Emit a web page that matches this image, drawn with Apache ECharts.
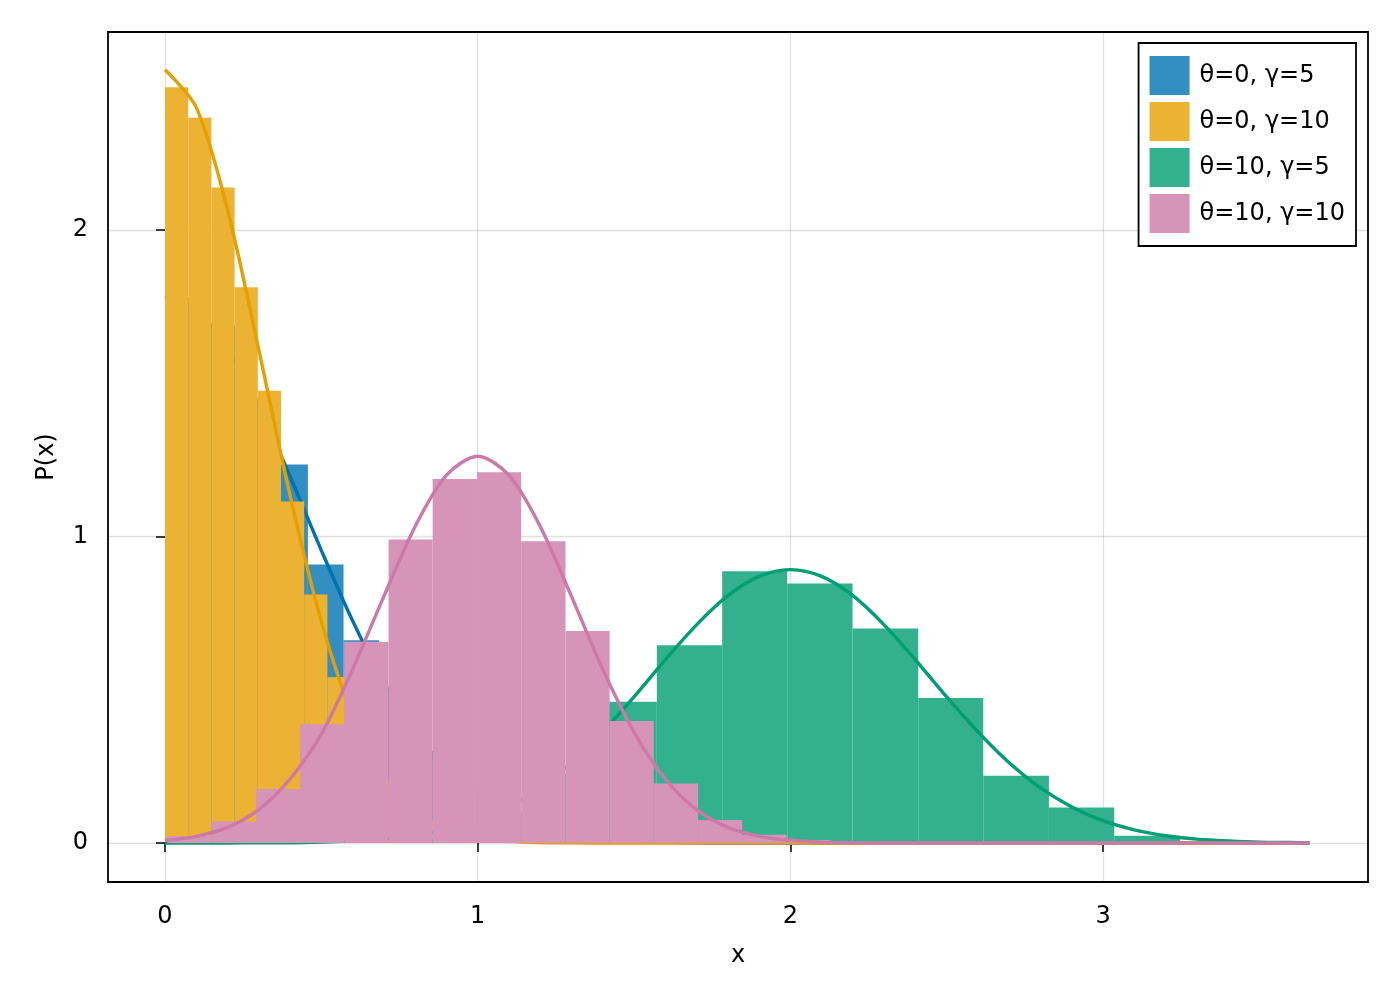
<!DOCTYPE html>
<html>
<head>
<meta charset="utf-8">
<script src="https://cdn.jsdelivr.net/npm/echarts@6/dist/echarts.min.js"></script>
<style>
  html, body { margin: 0; padding: 0; background: #fff; }
  #chart { width: 1400px; height: 1000px; }
</style>
</head>
<body>
<div id="chart"></div>
<script>
// legend names
const names = ['θ=0, γ=5', 'θ=0, γ=10', 'θ=10, γ=5', 'θ=10, γ=10'];

// histogram bin edges and heights
const blueEdges = [0, 0.114, 0.228, 0.343, 0.457, 0.571, 0.685, 0.799, 0.914, 1.028, 1.142, 1.256, 1.370, 1.485, 1.599, 1.713];
const blueHeights = [1.78, 1.69, 1.45, 1.235, 0.909, 0.662, 0.51, 0.30, 0.178, 0.10, 0.05, 0.025, 0.012, 0.006, 0.003];

const orangeEdges = [0, 0.0742, 0.1484, 0.2226, 0.2968, 0.371, 0.4452, 0.5194, 0.5936, 0.6678, 0.742, 0.8162, 0.8904, 0.9646, 1.0388, 1.113];
const orangeHeights = [2.466, 2.366, 2.139, 1.813, 1.476, 1.114, 0.811, 0.542, 0.33, 0.20, 0.11, 0.06, 0.03, 0.015, 0.007];

const greenEdges = [0.735, 0.944, 1.154, 1.363, 1.573, 1.782, 1.990, 2.199, 2.409, 2.617, 2.827, 3.036, 3.246, 3.455];
const greenHeights = [0.02, 0.09, 0.225, 0.461, 0.645, 0.887, 0.847, 0.700, 0.473, 0.220, 0.116, 0.024, 0.004];

const pinkEdges = [0.008, 0.149, 0.291, 0.432, 0.573, 0.715, 0.856, 0.998, 1.139, 1.281, 1.422, 1.563, 1.705, 1.846, 1.988, 2.129, 2.270];
const pinkHeights = [0.023, 0.070, 0.176, 0.388, 0.657, 0.990, 1.188, 1.210, 0.985, 0.692, 0.398, 0.194, 0.075, 0.027, 0.010, 0.003];

// density curves
const xs = [0, 0.1, 0.2, 0.3, 0.4, 0.5, 0.6, 0.7, 0.8, 0.9, 1.0, 1.1, 1.2, 1.3, 1.4, 1.5, 1.6, 1.7, 1.8, 1.9,
            2.0, 2.1, 2.2, 2.3, 2.4, 2.5, 2.6, 2.7, 2.8, 2.9, 3.0, 3.1, 3.2, 3.3, 3.4, 3.5, 3.6, 3.66];
const blueCurve = [1.784, 1.740, 1.614, 1.425, 1.196, 0.955, 0.725, 0.524, 0.360, 0.236, 0.146, 0.087, 0.049, 0.026, 0.013, 0.006, 0.003, 0.001, 0, 0,
                   0, 0, 0, 0, 0, 0, 0, 0, 0, 0, 0, 0, 0, 0, 0, 0, 0, 0];
const orangeCurve = [2.523, 2.400, 2.066, 1.609, 1.134, 0.723, 0.417, 0.218, 0.103, 0.044, 0.017, 0.006, 0.002, 0.001, 0, 0, 0, 0, 0, 0,
                     0, 0, 0, 0, 0, 0, 0, 0, 0, 0, 0, 0, 0, 0, 0, 0, 0, 0];
const greenCurve = [0, 0, 0, 0.001, 0.001, 0.003, 0.007, 0.013, 0.024, 0.043, 0.073, 0.118, 0.180, 0.262, 0.363, 0.477, 0.598, 0.712, 0.807, 0.870,
                    0.892, 0.870, 0.807, 0.712, 0.598, 0.477, 0.363, 0.262, 0.180, 0.118, 0.073, 0.043, 0.024, 0.013, 0.007, 0.003, 0.002, 0.001];
const pinkCurve = [0.009, 0.022, 0.051, 0.109, 0.209, 0.355, 0.567, 0.805, 1.033, 1.200, 1.262, 1.200, 1.033, 0.805, 0.567, 0.362, 0.209, 0.109, 0.051, 0.022,
                   0.009, 0.003, 0.001, 0, 0, 0, 0, 0, 0, 0, 0, 0, 0, 0, 0, 0, 0, 0];

const xTicks = [0, 1, 2, 3];
const yTicks = [0, 1, 2];

const lineColors = ['#0072B2', '#E69F00', '#009E73', '#CC79A7'];
const barColors = ['#338EC1', '#EBB233', '#33B18F', '#D694B9'];
const font = '"DejaVu Sans", "Liberation Sans", Arial, sans-serif';

const hists = [[blueEdges, blueHeights], [orangeEdges, orangeHeights], [greenEdges, greenHeights], [pinkEdges, pinkHeights]];
const curves = [blueCurve, orangeCurve, greenCurve, pinkCurve];

function renderBar(params, api) {
    const p0 = api.coord([api.value(0), api.value(2)]);
    const p1 = api.coord([api.value(1), 0]);
    return {
        type: 'rect',
        shape: { x: p0[0], y: p0[1], width: p1[0] - p0[0], height: p1[1] - p0[1] },
        style: { fill: api.visual('color') }
    };
}

const series = [];
hists.forEach(([edges, heights], i) => {
    series.push({
        name: names[i],
        type: 'custom',
        renderItem: renderBar,
        itemStyle: { color: barColors[i] },
        encode: { x: [0, 1], y: 2 },
        data: heights.map((h, k) => [edges[k], edges[k + 1], h]),
        z: 2 + i * 2,
        silent: true
    });
    series.push({
        name: names[i] + ' pdf',
        type: 'line',
        data: xs.map((x, k) => [x, curves[i][k]]),
        smooth: 0.3,
        showSymbol: false,
        lineStyle: { color: lineColors[i], width: 3.4 },
        itemStyle: { color: lineColors[i] },
        z: 3 + i * 2,
        silent: true
    });
});

const chart = echarts.init(document.getElementById('chart'));
chart.setOption({
    animation: false,
    backgroundColor: '#fff',
    textStyle: { fontFamily: font },
    grid: {
        left: 108, right: 32, top: 32, bottom: 118,
        show: true, borderColor: '#000', borderWidth: 1.8, backgroundColor: 'transparent'
    },
    legend: {
        data: names.map((n, i) => ({ name: n, icon: 'rect', itemStyle: { color: barColors[i] } })),
        orient: 'vertical',
        right: 44,
        top: 43,
        itemWidth: 40,
        itemHeight: 39,
        itemGap: 7,
        padding: [13, 11, 13, 11],
        borderColor: '#000',
        borderWidth: 1.8,
        backgroundColor: '#fff',
        textStyle: { fontSize: 24, color: '#000', fontFamily: font, padding: [3, 0, 0, 5] }
    },
    xAxis: {
        type: 'value',
        min: -0.1823,
        max: 3.8475,
        name: 'x',
        nameLocation: 'middle',
        nameGap: 62,
        nameTextStyle: { fontSize: 24, color: '#000', fontFamily: font },
        axisLine: { show: false },
        axisTick: { show: true, inside: false, length: 9, customValues: xTicks, lineStyle: { color: '#000', width: 1.5 } },
        axisLabel: { fontSize: 24, color: '#000', margin: 23, customValues: xTicks, fontFamily: font },
        splitLine: { show: true, lineStyle: { color: 'rgba(0,0,0,0.12)', width: 1.3 } }
    },
    yAxis: {
        type: 'value',
        min: -0.127,
        max: 2.646,
        name: 'P(x)',
        nameLocation: 'middle',
        nameGap: 49,
        nameTextStyle: { fontSize: 24, color: '#000', fontFamily: font },
        axisLine: { show: false },
        axisTick: { show: true, inside: false, length: 9, customValues: yTicks, lineStyle: { color: '#000', width: 1.5 } },
        axisLabel: { fontSize: 24, color: '#000', margin: 20, customValues: yTicks, fontFamily: font, padding: [4, 0, 0, 0] },
        splitLine: { show: true, lineStyle: { color: 'rgba(0,0,0,0.12)', width: 1.3 } }
    },
    series: series
});
</script>
</body>
</html>
